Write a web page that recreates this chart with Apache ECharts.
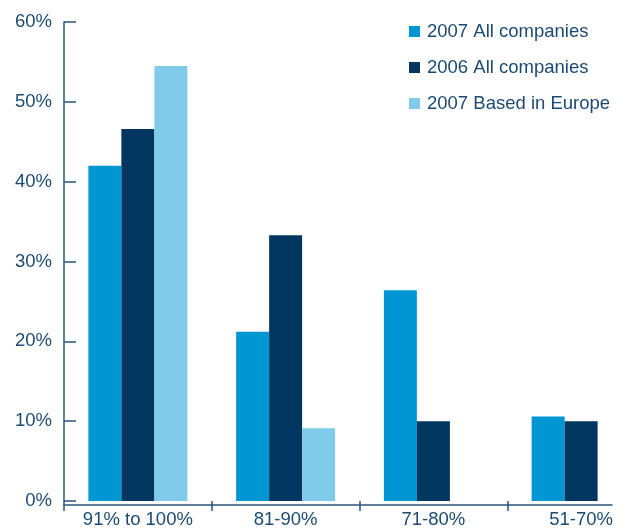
<!DOCTYPE html>
<html>
<head>
<meta charset="utf-8">
<script src="https://cdn.jsdelivr.net/npm/echarts@6/dist/echarts.min.js"></script>
<style>html,body{margin:0;padding:0;background:#fff;overflow:hidden}#c{width:670px;height:529px}</style>
</head>
<body>
<div id="c"></div>
<script>
const categories = ['91% to 100%', '81-90%', '71-80%', '51-70%'];
const all2007 = [42.0, 21.2, 26.4, 10.6];
const all2006 = [46.6, 33.3, 10.0, 10.0];
const europe2007 = [54.5, 9.1, null, null];
const seriesNames = ['2007 All companies', '2006 All companies', '2007 Based in Europe'];

const textColor = '#1b4a72';
const axisColor = '#2a5478';
const font = 'Liberation Sans, Arial, sans-serif';

const chart = echarts.init(document.getElementById('c'), null, {renderer: 'canvas'});
chart.setOption({
  animation: false,
  backgroundColor: '#ffffff',
  legend: {
    orient: 'vertical',
    left: 404,
    top: 17,
    itemWidth: 11,
    itemHeight: 11,
    itemGap: 17,
    icon: 'rect',
    textStyle: {color: textColor, fontSize: 18.5, fontFamily: font, padding: [0, 0, 0, 2]},
    data: seriesNames
  },
  grid: [
    {left: 64, top: 22, width: 591, bottom: 24, containLabel: false},
    {left: 64, top: 22, width: 548, bottom: 24, containLabel: false}
  ],
  xAxis: [
    {
      type: 'category', gridIndex: 0, data: categories,
      axisLine: {show: false},
      axisTick: {show: true, length: 10, lineStyle: {color: axisColor, width: 1.5}},
      axisLabel: {interval: 0, color: textColor, fontSize: 18.5, fontFamily: font, margin: 9},
      splitLine: {show: false}
    },
    {
      type: 'value', gridIndex: 1, min: 0, max: 1,
      axisLine: {show: true, lineStyle: {color: axisColor, width: 1.5}},
      axisTick: {show: false}, axisLabel: {show: false}, splitLine: {show: false}
    }
  ],
  yAxis: [
    {
      type: 'value', gridIndex: 0, min: 0, max: 60, interval: 10,
      axisLine: {show: true, lineStyle: {color: axisColor, width: 1.5}},
      axisTick: {show: true, inside: true, length: 12, lineStyle: {color: axisColor, width: 1.5}},
      axisLabel: {formatter: '{value}%', color: textColor, fontSize: 18.5, fontFamily: font, margin: 12},
      splitLine: {show: false}
    },
    {type: 'value', gridIndex: 1, show: false, min: 0, max: 1}
  ],
  series: [
    {name: seriesNames[0], type: 'bar', data: all2007, barWidth: 33, barGap: '0%', itemStyle: {color: '#0096d4'}},
    {name: seriesNames[1], type: 'bar', data: all2006, barWidth: 33, barGap: '0%', itemStyle: {color: '#00365f'}},
    {name: seriesNames[2], type: 'bar', data: europe2007, barWidth: 33, barGap: '0%', itemStyle: {color: '#80cbea'}}
  ]
});
</script>
</body>
</html>
